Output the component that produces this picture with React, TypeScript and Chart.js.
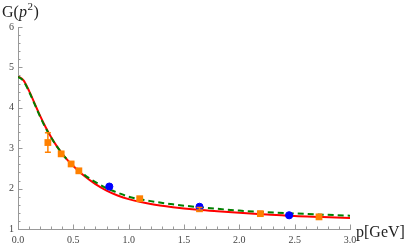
import React, { useEffect, useRef } from "react";
import { Chart, registerables } from "chart.js";
Chart.register(...registerables);

// Curves
const curveP = [0, 0.05, 0.1, 0.15, 0.2, 0.25, 0.3, 0.35, 0.4, 0.45, 0.5, 0.6, 0.7, 0.8, 0.9, 1.0, 1.2, 1.4, 1.6, 1.8, 2.0, 2.25, 2.5, 2.75, 3.0];
const redG = [4.78, 4.68, 4.42, 4.11, 3.8, 3.52, 3.27, 3.05, 2.86, 2.7, 2.56, 2.31, 2.11, 1.95, 1.83, 1.74, 1.62, 1.54, 1.48, 1.44, 1.4, 1.36, 1.32, 1.295, 1.27];
const greenG = [4.77, 4.66, 4.4, 4.09, 3.78, 3.5, 3.26, 3.05, 2.86, 2.7, 2.57, 2.34, 2.16, 2.01, 1.9, 1.8, 1.69, 1.61, 1.55, 1.5, 1.455, 1.415, 1.385, 1.355, 1.33];

// Lattice points
const orangeP = [0.27, 0.39, 0.48, 0.55, 1.1, 1.64, 2.19, 2.72];
const orangeG = [3.14, 2.86, 2.61, 2.44, 1.75, 1.5, 1.38, 1.3];
const orangeErr = [0.24, 0.04, 0.04, 0.04, 0.03, 0.03, 0.02, 0.02];
const blueP = [0.825, 1.64, 2.45];
const blueG = [2.05, 1.55, 1.34];

const xLabels = ["0.0", "0.5", "1.0", "1.5", "2.0", "2.5", "3.0"];
const yLabels = ["1", "2", "3", "4", "5", "6"];

const SERIF = "'Liberation Serif', 'DejaVu Serif', serif";

const pts = (xs: number[], ys: number[]) => xs.map((x, i) => ({ x, y: ys[i] }));

const decorPlugin = {
  id: "decor",
  afterDraw(chart: any) {
    const ctx = chart.ctx;
    const xs = chart.scales.x;
    const ys = chart.scales.y;
    const x0 = xs.getPixelForValue(0);
    const y1 = ys.getPixelForValue(1);
    ctx.save();
    ctx.strokeStyle = "#999999";
    ctx.lineWidth = 1;
    for (let i = 0; i <= 30; i++) {
      const v = i / 10;
      const px = Math.round(xs.getPixelForValue(v)) + 0.5;
      const len = i % 5 === 0 ? 4.5 : 2.5;
      ctx.beginPath();
      ctx.moveTo(px, y1);
      ctx.lineTo(px, y1 - len);
      ctx.stroke();
    }
    for (let i = 0; i <= 25; i++) {
      const v = 1 + i / 5;
      const py = Math.round(ys.getPixelForValue(v)) + 0.5;
      const len = i % 5 === 0 ? 4.5 : 2.5;
      ctx.beginPath();
      ctx.moveTo(x0, py);
      ctx.lineTo(x0 + len, py);
      ctx.stroke();
    }
    ctx.fillStyle = "#222222";
    ctx.textBaseline = "alphabetic";
    ctx.textAlign = "left";
    let x = 2;
    const base = 17;
    ctx.font = `16px ${SERIF}`;
    ctx.fillText("G(", x, base);
    x += ctx.measureText("G(").width;
    ctx.font = `italic 16px ${SERIF}`;
    ctx.fillText("p", x, base);
    x += ctx.measureText("p").width;
    ctx.font = `11px ${SERIF}`;
    ctx.fillText("2", x + 0.5, base - 7);
    x += ctx.measureText("2").width + 1;
    ctx.font = `16px ${SERIF}`;
    ctx.fillText(")", x, base);

    ctx.font = `16px ${SERIF}`;
    ctx.fillText("p[GeV]", 356, 237);
    ctx.restore();
  },
  afterDatasetsDraw(chart: any) {
    const ctx = chart.ctx;
    const xs = chart.scales.x;
    const ys = chart.scales.y;
    ctx.save();
    ctx.strokeStyle = "#ff8000";
    ctx.lineWidth = 1.5;
    orangeP.forEach((p, i) => {
      const e = orangeErr[i];
      const px = xs.getPixelForValue(p);
      const top = ys.getPixelForValue(orangeG[i] + e);
      const bot = ys.getPixelForValue(orangeG[i] - e);
      ctx.beginPath();
      ctx.moveTo(px, top);
      ctx.lineTo(px, bot);
      ctx.moveTo(px - 3, top);
      ctx.lineTo(px + 3, top);
      ctx.moveTo(px - 3, bot);
      ctx.lineTo(px + 3, bot);
      ctx.stroke();
    });
    ctx.restore();
  },
};

export default function App() {
  const ref = useRef<HTMLCanvasElement | null>(null);
  useEffect(() => {
    document.body.style.margin = "0";
    const canvas = ref.current!;
    const chart = new Chart(canvas, {
      type: "scatter",
      data: {
        datasets: [
          {
            label: "blue",
            data: pts(blueP, blueG),
            backgroundColor: "#0000ff",
            borderColor: "#0000ff",
            pointRadius: 3.6,
            pointStyle: "circle",
            order: 1,
          },
          {
            label: "orange",
            data: pts(orangeP, orangeG),
            backgroundColor: "#ff8000",
            borderColor: "#ff8000",
            pointRadius: 4.8,
            pointStyle: "rect",
            borderWidth: 0,
            order: 2,
          },
          {
            label: "green",
            data: pts(curveP, greenG),
            showLine: true,
            borderColor: "#008000",
            borderWidth: 2,
            borderDash: [6, 4],
            pointRadius: 0,
            cubicInterpolationMode: "monotone",
            order: 3,
          },
          {
            label: "red",
            data: pts(curveP, redG),
            showLine: true,
            borderColor: "#ff0000",
            borderWidth: 2,
            pointRadius: 0,
            cubicInterpolationMode: "monotone",
            order: 4,
          },
        ],
      },
      options: {
        animation: false,
        responsive: false,
        layout: { padding: { top: 27, right: 57, left: 0, bottom: 0 } },
        plugins: { legend: { display: false }, tooltip: { enabled: false } },
        scales: {
          x: {
            type: "linear",
            min: 0,
            max: 3,
            grid: { display: false, drawTicks: false },
            border: { display: true, color: "#999999", width: 1 },
            ticks: {
              stepSize: 0.5,
              padding: 5,
              color: "#444444",
              font: { family: SERIF, size: 10 },
              callback: (v: any) => xLabels[Math.round(Number(v) * 2)] ?? "",
              maxRotation: 0,
            },
            afterFit: (s: any) => {
              s.height = 18;
            },
          },
          y: {
            type: "linear",
            min: 1,
            max: 6,
            grid: { display: false, drawTicks: false },
            border: { display: true, color: "#999999", width: 1 },
            ticks: {
              stepSize: 1,
              padding: 4,
              color: "#444444",
              font: { family: SERIF, size: 10 },
              callback: (v: any) => yLabels[Math.round(Number(v)) - 1] ?? "",
            },
            afterFit: (s: any) => {
              s.width = 18;
            },
          },
        },
      },
      plugins: [decorPlugin],
    } as any);
    return () => chart.destroy();
  }, []);
  return <canvas ref={ref} width={407} height={247} style={{ display: "block" }} />;
}
